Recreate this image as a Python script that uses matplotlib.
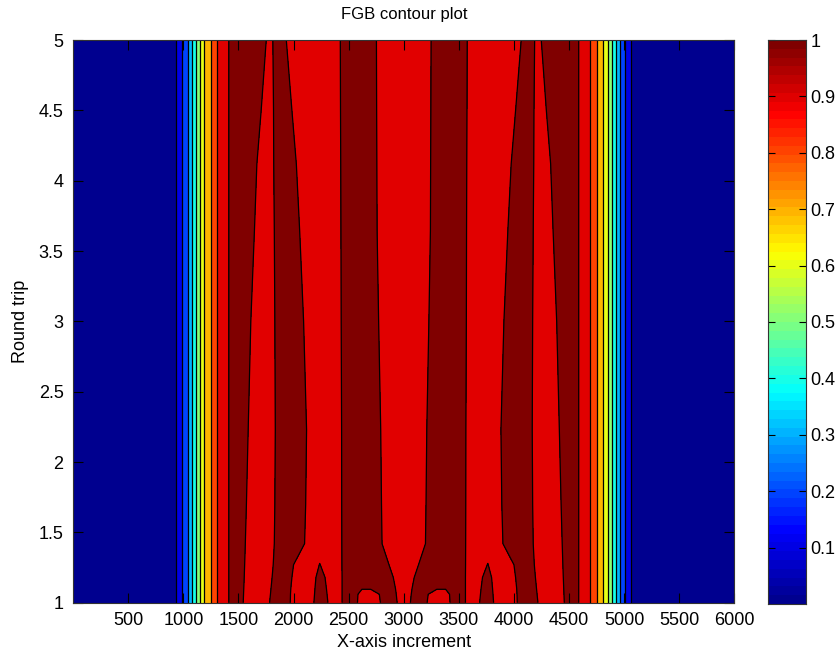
import numpy as np
import matplotlib.pyplot as plt
from matplotlib.colors import LinearSegmentedColormap

plt.rcParams['font.family'] = ['Liberation Sans', 'DejaVu Sans']
plt.rcParams['font.size'] = 13

round_trip = [1.0, 1.06, 1.1, 1.18, 1.27, 1.42, 1.7, 2.23, 3.0, 3.65, 4.12, 4.5, 5.0]

# left flank of the beam: x where each contour level is crossed
flank_x = [0, 934, 988, 1040, 1075, 1110, 1150, 1190, 1250, 1309, 1412]
flank_z = [0.0, 0.1, 0.2, 0.3, 0.4, 0.5, 0.6, 0.7, 0.8, 0.9, 1.0]

# edges of the ripple bands (level 1.0) on the left half, one per round trip
edge2 = [1543, 1546, 1548, 1552, 1556, 1562, 1572, 1588, 1612, 1645, 1667, 1706, 1752]
edge3 = [1782, 1790, 1795, 1805, 1815, 1825, 1830, 1834, 1830, 1825, 1820, 1818, 1812]
edge4 = [1970, 1972, 1975, 1985, 2000, 2100, 2110, 2118, 2091, 2055, 2025, 1985, 1934]
edge5 = [2440, 2440, 2440, 2440, 2439, 2438, 2437, 2436, 2432, 2430, 2428, 2426, 2424]
edge6 = [2940, 2932, 2925, 2905, 2866, 2803, 2798, 2791, 2772, 2758, 2756, 2754, 2752]

# small spike near the bottom of the red band
spike_x = [2140, 2237, 2375]
spike_z = [1.059, 1.047, 1.04, 1.027, 1.002, 0.97, 0.95, 0.95, 0.95, 0.95, 0.95, 0.95, 0.95]

# red island inside the third dark band
island_x = [2540, 2620, 2700]
island_right = [2876, 2876, 2876, 2840, 2800, 2760, 2740, 2740, 2730, 2730, 2730, 2730, 2730]
island_z = [0.95, 0.96, 1.005, 1.05, 1.05, 1.05, 1.05, 1.05, 1.05, 1.05, 1.05, 1.05, 1.05]

x_max = 6000
levels = [0.0, 0.1, 0.2, 0.3, 0.4, 0.5, 0.6, 0.7, 0.8, 0.9, 1.0, 1.1]

# MATLAB style jet
jet = LinearSegmentedColormap('mjet', {
    'red': [(0, 0, 0), (0.375, 0, 0), (0.625, 1, 1), (0.875, 1, 1), (1, 0.5, 0.5)],
    'green': [(0, 0, 0), (0.125, 0, 0), (0.375, 1, 1), (0.625, 1, 1), (0.875, 0, 0), (1, 0, 0)],
    'blue': [(0, 0.5625, 0.5625), (0.125, 1, 1), (0.375, 1, 1), (0.625, 0, 0), (1, 0, 0)],
}, N=64)

# build a curvilinear grid: one row per round trip, mirrored about the centre
X, Y, Z = [], [], []
for i, rt in enumerate(round_trip):
    xs = flank_x + [(flank_x[-1] + edge2[i]) / 2, edge2[i], (edge2[i] + edge3[i]) / 2,
                    edge3[i], (edge3[i] + edge4[i]) / 2, edge4[i]] + spike_x + \
         [edge5[i]] + island_x + [island_right[i], edge6[i], x_max / 2]
    zs = flank_z + [1.05, 1.0, 0.95, 1.0, 1.05, 1.0, 0.95, spike_z[i], 0.95, 1.0,
                    1.05, island_z[i], island_z[i], 1.05, 1.0, 0.95]
    xs = xs + [x_max - v for v in xs[-2::-1]]
    zs = zs + zs[-2::-1]
    X.append(xs)
    Z.append(zs)
    Y.append([rt] * len(xs))
X, Y, Z = np.array(X, float), np.array(Y, float), np.array(Z, float)

fig = plt.figure(figsize=(8.37, 6.57), dpi=100)
ax = fig.add_axes([0.0876, 0.0826, 0.7897, 0.8565])

band_colors = [jet(v) for v in levels[:-1]]
ax.contourf(X, Y, Z, levels=levels, colors=band_colors)
ax.contour(X, Y, Z, levels=levels[1:-1], colors='k', linewidths=0.9)

ax.set_xlim(1, 6000)
ax.set_ylim(1, 5)
ax.set_xticks(range(500, 6001, 500))
ax.set_yticks([1, 1.5, 2, 2.5, 3, 3.5, 4, 4.5, 5])
ax.set_yticklabels(['1', '1.5', '2', '2.5', '3', '3.5', '4', '4.5', '5'])
ax.tick_params(direction='in', top=True, right=True, length=7, width=0.8, pad=7)
ax.tick_params(axis='y', pad=7)
for s in ax.spines.values():
    s.set_linewidth(0.8)
    s.set_color('#333333')
ax.set_title('FGB contour plot', fontsize=12, pad=15)
ax.set_xlabel('X-axis increment', labelpad=3)
ax.set_ylabel('Round trip', labelpad=7)

# colorbar in the MATLAB style
cax = fig.add_axes([0.9172, 0.0807, 0.0461, 0.8584])
grad = np.linspace(0, 1, 64).reshape(-1, 1)
cax.imshow(grad, cmap=jet, aspect='auto', origin='lower', extent=[0, 1, 0, 1],
           vmin=0, vmax=1)
cax.set_xticks([])
cax.yaxis.tick_right()
cb_ticks = [0.1, 0.2, 0.3, 0.4, 0.5, 0.6, 0.7, 0.8, 0.9, 1.0]
cax.set_yticks(cb_ticks)
cax.set_yticklabels(['0.1', '0.2', '0.3', '0.4', '0.5', '0.6', '0.7', '0.8', '0.9', '1'])
cax.tick_params(axis='y', direction='in', left=True, right=True, length=5, width=0.8, pad=3)
for s in cax.spines.values():
    s.set_linewidth(0.8)
    s.set_color('#333333')

fig.savefig('out.png', dpi=100)
